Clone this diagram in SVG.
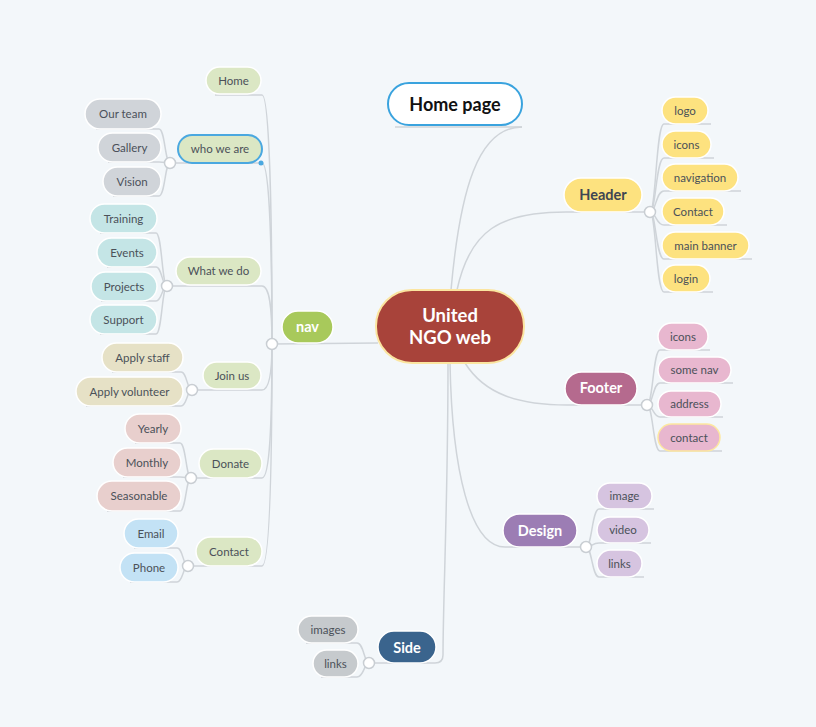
<svg xmlns="http://www.w3.org/2000/svg" width="816" height="727" viewBox="0 0 816 727">
<style>
.ln{fill:none;stroke:#cfd4d9;stroke-width:1.5}
.dot{fill:#fff;stroke:#c9ced3;stroke-width:1.5}
.n rect{stroke:#fff;stroke-width:1.5}
.t{font-family:Lato,"Liberation Sans",sans-serif;font-size:11.5px;fill:#4b5159;text-anchor:middle}
.m{font-family:Lato,"Liberation Sans",sans-serif;font-weight:bold;font-size:14.5px;fill:#fff;text-anchor:middle}
.y{fill:#fde27f}.p{fill:#e8b7cf}.v{fill:#d6c4e0}.g{fill:#c6cacd}.lg{fill:#dbe7c4}
.gr{fill:#d0d4d9}.tl{fill:#c4e5e6}.bg{fill:#e6e1c6}.rs{fill:#e8cfcd}.lb{fill:#c3e2f5}
</style>
<rect x="0" y="0" width="816" height="727" fill="#f3f7fa"/>
<g id="connectors">
<path class="ln" d="M451,290 C460,190 478,127 522,127"/>
<path class="ln" d="M395,127 L522,127"/>
<path class="ln" d="M457,290 C470,230 500,212 566,212 L650,212"/>
<path class="ln" d="M465,363 C485,395 520,405 567,405 L647,405"/>
<path class="ln" d="M450,363 C452,470 470,547 505,547 L586,547"/>
<path class="ln" d="M448,363 C448,500 443,600 443,655 Q443,663 435,663 L369,663"/>
<path class="ln" d="M272,344 L378,343"/>
<path class="ln" d="M650,212 C656,212 656,124 664,124 L711,124"/>
<path class="ln" d="M650,212 C656,212 656,158 664,158 L714,158"/>
<path class="ln" d="M650,212 C656,212 656,191 664,191 L741,191"/>
<path class="ln" d="M650,212 C656,212 656,225 664,225 L727,225"/>
<path class="ln" d="M650,212 C656,212 656,259 664,259 L752,259"/>
<path class="ln" d="M650,212 C656,212 656,292 664,292 L713,292"/>
<path class="ln" d="M647,405 C653,405 653,350 660,350 L710,350"/>
<path class="ln" d="M647,405 C653,405 653,383 660,383 L733,383"/>
<path class="ln" d="M647,405 C653,405 653,417 660,417 L723,417"/>
<path class="ln" d="M647,405 C653,405 653,451 660,451 L722,451"/>
<path class="ln" d="M586,547 C592,547 592,509 599,509 L654,509"/>
<path class="ln" d="M586,547 C592,547 592,543 599,543 L651,543"/>
<path class="ln" d="M586,547 C592,547 592,577 599,577 L644,577"/>
<path class="ln" d="M369,663 C364,663 364,643 357,643 L306,643"/>
<path class="ln" d="M369,663 C364,663 364,677 357,677 L321,677"/>
<path class="ln" d="M272,344 C272,230 270,95 262,95 L215,95"/>
<path class="ln" d="M272,344 C272,260 270,163 262,163 L170,163"/>
<path class="ln" d="M272,344 C272,310 270,286 262,286 L167,286"/>
<path class="ln" d="M272,344 C272,370 270,390 262,390 L192,390"/>
<path class="ln" d="M272,344 C272,420 270,478 262,478 L191,478"/>
<path class="ln" d="M272,344 C272,460 270,566 262,566 L188,566"/>
<path class="ln" d="M170,163 C165,163 165,129 159,129 L96,129"/>
<path class="ln" d="M170,163 C165,163 165,162 159,162 L108,162"/>
<path class="ln" d="M170,163 C165,163 165,196 159,196 L113,196"/>
<path class="ln" d="M167,286 C162,286 162,233 156,233 L100,233"/>
<path class="ln" d="M167,286 C162,286 162,267 156,267 L107,267"/>
<path class="ln" d="M167,286 C162,286 162,301 156,301 L101,301"/>
<path class="ln" d="M167,286 C162,286 162,334 156,334 L100,334"/>
<path class="ln" d="M192,390 C187,390 187,372 181,372 L112,372"/>
<path class="ln" d="M192,390 C187,390 187,406 181,406 L86,406"/>
<path class="ln" d="M191,478 C186,478 186,443 180,443 L135,443"/>
<path class="ln" d="M191,478 C186,478 186,477 180,477 L123,477"/>
<path class="ln" d="M191,478 C186,478 186,511 180,511 L107,511"/>
<path class="ln" d="M188,566 C183,566 183,548 177,548 L134,548"/>
<path class="ln" d="M188,566 C183,566 183,582 177,582 L130,582"/>
</g>
<g id="circles">
<circle class="dot" cx="650" cy="212" r="5.5"/>
<circle class="dot" cx="647" cy="405" r="5.5"/>
<circle class="dot" cx="586" cy="547" r="5.5"/>
<circle class="dot" cx="369" cy="663" r="5.5"/>
<circle class="dot" cx="272" cy="344" r="5.5"/>
<circle class="dot" cx="170" cy="163" r="5.5"/>
<circle class="dot" cx="167" cy="286" r="5.5"/>
<circle class="dot" cx="192" cy="390" r="5.5"/>
<circle class="dot" cx="191" cy="478" r="5.5"/>
<circle class="dot" cx="188" cy="566" r="5.5"/>
</g>
<g id="center"><rect x="376" y="290" width="148" height="73" rx="36" fill="#a8433a" stroke="#fbe5a0" stroke-width="2"/>
<text class="m" x="450" y="322" style="font-size:18.5px">United</text><text class="m" x="450" y="344" style="font-size:18.5px">NGO web</text></g>
<g id="homepage"><rect x="388" y="83" width="134" height="42" rx="21" fill="#fff" stroke="#3aa3de" stroke-width="2"/>
<text class="m" x="455" y="111" style="fill:#111;font-size:18px">Home page</text></g>
<g id="header" class="n"><rect class="y" x="564" y="178" width="78" height="34" rx="17"/><text class="m" x="603" y="200" style="fill:#3e4652">Header</text></g>
<g id="h-logo" class="n"><rect class="y" x="662" y="97" width="46" height="27" rx="13.5"/><text class="t" x="685" y="114.5">logo</text></g>
<g id="h-icons" class="n"><rect class="y" x="662" y="131" width="49" height="27" rx="13.5"/><text class="t" x="686.5" y="148.5">icons</text></g>
<g id="h-navigation" class="n"><rect class="y" x="662" y="164" width="76" height="27" rx="13.5"/><text class="t" x="700" y="181.5">navigation</text></g>
<g id="h-contact" class="n"><rect class="y" x="662" y="198" width="62" height="27" rx="13.5"/><text class="t" x="693" y="215.5">Contact</text></g>
<g id="h-banner" class="n"><rect class="y" x="662" y="232" width="87" height="27" rx="13.5"/><text class="t" x="705.5" y="249.5">main banner</text></g>
<g id="h-login" class="n"><rect class="y" x="662" y="265" width="48" height="27" rx="13.5"/><text class="t" x="686" y="282.5">login</text></g>
<g id="footer" class="n"><rect x="565" y="372" width="72" height="33" rx="16.5" fill="#b56a8e"/><text class="m" x="601" y="393">Footer</text></g>
<g id="f-icons" class="n"><rect class="p" x="658" y="323" width="50" height="27" rx="13.5"/><text class="t" x="683" y="340.5">icons</text></g>
<g id="f-somenav" class="n"><rect class="p" x="658" y="357" width="73" height="26" rx="13"/><text class="t" x="694.5" y="374">some nav</text></g>
<g id="f-address" class="n"><rect class="p" x="658" y="391" width="63" height="26" rx="13"/><text class="t" x="689.5" y="408">address</text></g>
<g id="f-contact"><rect class="p" x="658" y="424" width="62" height="27" rx="13.5" stroke="#fde8a0" stroke-width="1.5"/><text class="t" x="689" y="441.5">contact</text></g>
<g id="design" class="n"><rect x="503" y="514" width="74" height="33" rx="16.5" fill="#9c7db4"/><text class="m" x="540" y="536">Design</text></g>
<g id="d-image" class="n"><rect class="v" x="597" y="483" width="55" height="26" rx="13"/><text class="t" x="624.5" y="500">image</text></g>
<g id="d-video" class="n"><rect class="v" x="597" y="517" width="52" height="26" rx="13"/><text class="t" x="623" y="534">video</text></g>
<g id="d-links" class="n"><rect class="v" x="597" y="550" width="45" height="27" rx="13.5"/><text class="t" x="619.5" y="567.5">links</text></g>
<g id="side" class="n"><rect x="378" y="631" width="58" height="32" rx="16" fill="#3a648d"/><text class="m" x="407" y="652.5">Side</text></g>
<g id="s-images" class="n"><rect class="g" x="298" y="616" width="60" height="27" rx="13.5"/><text class="t" x="328" y="633.5">images</text></g>
<g id="s-links" class="n"><rect class="g" x="313" y="650" width="45" height="27" rx="13.5"/><text class="t" x="335.5" y="667.5">links</text></g>
<g id="nav" class="n"><rect x="282" y="311" width="51" height="32" rx="16" fill="#a8c95b"/><text class="m" x="307.5" y="331.5">nav</text></g>
<g id="n-home" class="n"><rect class="lg" x="206" y="67" width="55" height="27" rx="13.5"/><text class="t" x="233.5" y="84.5">Home</text></g>
<g id="n-who"><rect class="lg" x="178" y="135" width="84" height="28" rx="14" stroke="#4aa8e0" stroke-width="2"/><circle cx="261" cy="163" r="2.5" fill="#4aa8e0"/><text class="t" x="220" y="153">who we are</text></g>
<g id="w-team" class="n"><rect class="gr" x="85" y="99" width="76" height="30" rx="15"/><text class="t" x="123" y="118">Our team</text></g>
<g id="w-gallery" class="n"><rect class="gr" x="98" y="133" width="63" height="29" rx="14.5"/><text class="t" x="129.5" y="151.5">Gallery</text></g>
<g id="w-vision" class="n"><rect class="gr" x="103" y="167" width="58" height="29" rx="14.5"/><text class="t" x="132" y="185.5">Vision</text></g>
<g id="n-what" class="n"><rect class="lg" x="176" y="257" width="85" height="28" rx="14"/><text class="t" x="218.5" y="275">What we do</text></g>
<g id="wd-training" class="n"><rect class="tl" x="90" y="204" width="67" height="29" rx="14.5"/><text class="t" x="123.5" y="222.5">Training</text></g>
<g id="wd-events" class="n"><rect class="tl" x="97" y="238" width="60" height="29" rx="14.5"/><text class="t" x="127" y="256.5">Events</text></g>
<g id="wd-projects" class="n"><rect class="tl" x="91" y="272" width="66" height="29" rx="14.5"/><text class="t" x="124" y="290.5">Projects</text></g>
<g id="wd-support" class="n"><rect class="tl" x="90" y="305" width="67" height="29" rx="14.5"/><text class="t" x="123.5" y="323.5">Support</text></g>
<g id="n-join" class="n"><rect class="lg" x="203" y="362" width="58" height="27" rx="13.5"/><text class="t" x="232" y="379.5">Join us</text></g>
<g id="j-staff" class="n"><rect class="bg" x="102" y="343" width="81" height="29" rx="14.5"/><text class="t" x="142.5" y="361.5">Apply staff</text></g>
<g id="j-volunteer" class="n"><rect class="bg" x="76" y="377" width="107" height="29" rx="14.5"/><text class="t" x="129.5" y="395.5">Apply volunteer</text></g>
<g id="n-donate" class="n"><rect class="lg" x="199" y="449" width="63" height="29" rx="14.5"/><text class="t" x="230.5" y="467.5">Donate</text></g>
<g id="dn-yearly" class="n"><rect class="rs" x="125" y="414" width="56" height="29" rx="14.5"/><text class="t" x="153" y="432.5">Yearly</text></g>
<g id="dn-monthly" class="n"><rect class="rs" x="113" y="448" width="68" height="29" rx="14.5"/><text class="t" x="147" y="466.5">Monthly</text></g>
<g id="dn-seasonable" class="n"><rect class="rs" x="97" y="481" width="84" height="30" rx="15"/><text class="t" x="139" y="500">Seasonable</text></g>
<g id="n-contact" class="n"><rect class="lg" x="196" y="537" width="66" height="29" rx="14.5"/><text class="t" x="229" y="555.5">Contact</text></g>
<g id="c-email" class="n"><rect class="lb" x="124" y="519" width="54" height="29" rx="14.5"/><text class="t" x="151" y="537.5">Email</text></g>
<g id="c-phone" class="n"><rect class="lb" x="120" y="553" width="58" height="29" rx="14.5"/><text class="t" x="149" y="571.5">Phone</text></g>
</svg>
